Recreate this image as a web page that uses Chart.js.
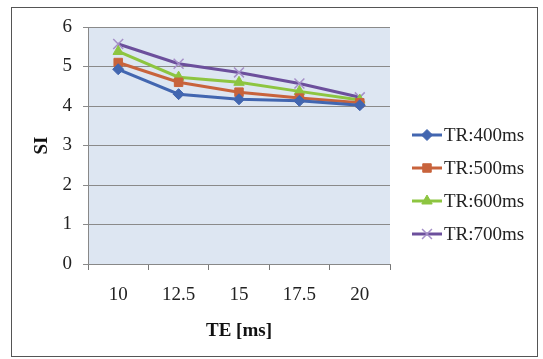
<!DOCTYPE html>
<html>
<head>
<meta charset="utf-8">
<script src="https://cdn.jsdelivr.net/npm/chart.js@4/dist/chart.umd.min.js"></script>
<style>
  html, body { margin: 0; padding: 0; background: #fff; }
  #wrap { width: 543px; height: 359px; }
</style>
</head>
<body>
<div id="wrap"><canvas id="si-chart" width="543" height="359"></canvas></div>
<script>
// TE values on the x axis
const teLabels = ["10", "12.5", "15", "17.5", "20"]

// SI for each TR setting
const tr400 = [4.93, 4.30, 4.17, 4.13, 4.02]
const tr500 = [5.10, 4.60, 4.35, 4.20, 4.08]
const tr600 = [5.38, 4.73, 4.60, 4.37, 4.15]
const tr700 = [5.57, 5.07, 4.85, 4.57, 4.22]

const seriesNames = ["TR:400ms", "TR:500ms", "TR:600ms", "TR:700ms"]
const yTicks = [0, 1, 2, 3, 4, 5, 6]

const serif = "'Liberation Serif', 'DejaVu Serif', serif"

const styles = [
  { color: "#4266b0", point: "rectRot", radius: 5.5 },
  { color: "#c8633c", point: "rect", radius: 6 },
  { color: "#8dc540", point: "triangle", radius: 6 },
  { color: "#6c4f9c", point: "crossRot", radius: 7, pointColor: "#a58fc8" }
]

const makeSet = (label, data, s) => ({
  label,
  data,
  borderColor: s.color,
  backgroundColor: s.color,
  borderWidth: 3,
  pointStyle: s.point,
  pointRadius: s.radius,
  pointHoverRadius: s.radius,
  pointBackgroundColor: s.color,
  pointBorderColor: s.pointColor || s.color,
  pointBorderWidth: s.point === "crossRot" ? 1.5 : 1,
  tension: 0
})

// plot background + outer frame
const framePlugin = {
  id: "frame",
  beforeDraw(chart) {
    const { ctx, chartArea } = chart
    ctx.save()
    ctx.fillStyle = "#fff"
    ctx.fillRect(0, 0, chart.width, chart.height)
    ctx.fillStyle = "#dde6f2"
    ctx.fillRect(chartArea.left, chartArea.top, chartArea.right - chartArea.left, chartArea.bottom - chartArea.top)
    ctx.strokeStyle = "#555"
    ctx.lineWidth = 1
    ctx.strokeRect(11.5, 7.5, 526, 349)
    ctx.restore()
  }
}

// legend on the right: line + marker + label
const legendPlugin = {
  id: "sideLegend",
  afterDraw(chart) {
    const { ctx } = chart
    ctx.save()
    chart.data.datasets.forEach((ds, i) => {
      const y = 135 + i * 33
      ctx.strokeStyle = ds.borderColor
      ctx.lineWidth = 3
      ctx.beginPath()
      ctx.moveTo(412, y)
      ctx.lineTo(442, y)
      ctx.stroke()
      ctx.fillStyle = ds.pointBackgroundColor
      ctx.strokeStyle = ds.pointBorderColor
      ctx.lineWidth = ds.pointBorderWidth
      Chart.helpers.drawPoint(ctx, {
        pointStyle: ds.pointStyle,
        radius: ds.pointRadius,
        rotation: 0,
        borderWidth: ds.pointBorderWidth
      }, 427, y)
      ctx.fillStyle = "#222"
      ctx.font = "19px " + serif
      ctx.textBaseline = "middle"
      ctx.fillText(ds.label, 444, y + 1)
    })
    ctx.restore()
  }
}

new Chart(document.getElementById("si-chart"), {
  type: "line",
  data: {
    labels: teLabels,
    datasets: [
      makeSet(seriesNames[0], tr400, styles[0]),
      makeSet(seriesNames[1], tr500, styles[1]),
      makeSet(seriesNames[2], tr600, styles[2]),
      makeSet(seriesNames[3], tr700, styles[3])
    ]
  },
  options: {
    responsive: false,
    animation: false,
    layout: { padding: { left: 27, right: 153, top: 27, bottom: 13 } },
    plugins: {
      legend: { display: false },
      tooltip: { enabled: false }
    },
    scales: {
      x: {
        offset: true,
        grid: {
          offset: true,
          drawOnChartArea: false,
          drawTicks: true,
          tickLength: 6,
          color: "#777"
        },
        border: { color: "#888" },
        ticks: { color: "#222", padding: 14, font: { family: serif, size: 19 } },
        title: {
          display: true,
          text: "TE [ms]",
          color: "#111",
          font: { family: serif, size: 19, weight: "bold" }
        },
        afterFit(scale) { scale.height = 82 }
      },
      y: {
        min: 0,
        max: 6,
        afterBuildTicks(scale) { scale.ticks = yTicks.map(v => ({ value: v })) },
        grid: { color: "#8a8a8a", tickLength: 5 },
        border: { color: "#888" },
        ticks: { color: "#222", padding: 11, font: { family: serif, size: 19 } },
        title: {
          display: true,
          text: "SI",
          color: "#111",
          font: { family: serif, size: 19, weight: "bold" }
        },
        afterFit(scale) { scale.width = 61 }
      }
    }
  },
  plugins: [framePlugin, legendPlugin]
})
</script>
</body>
</html>
